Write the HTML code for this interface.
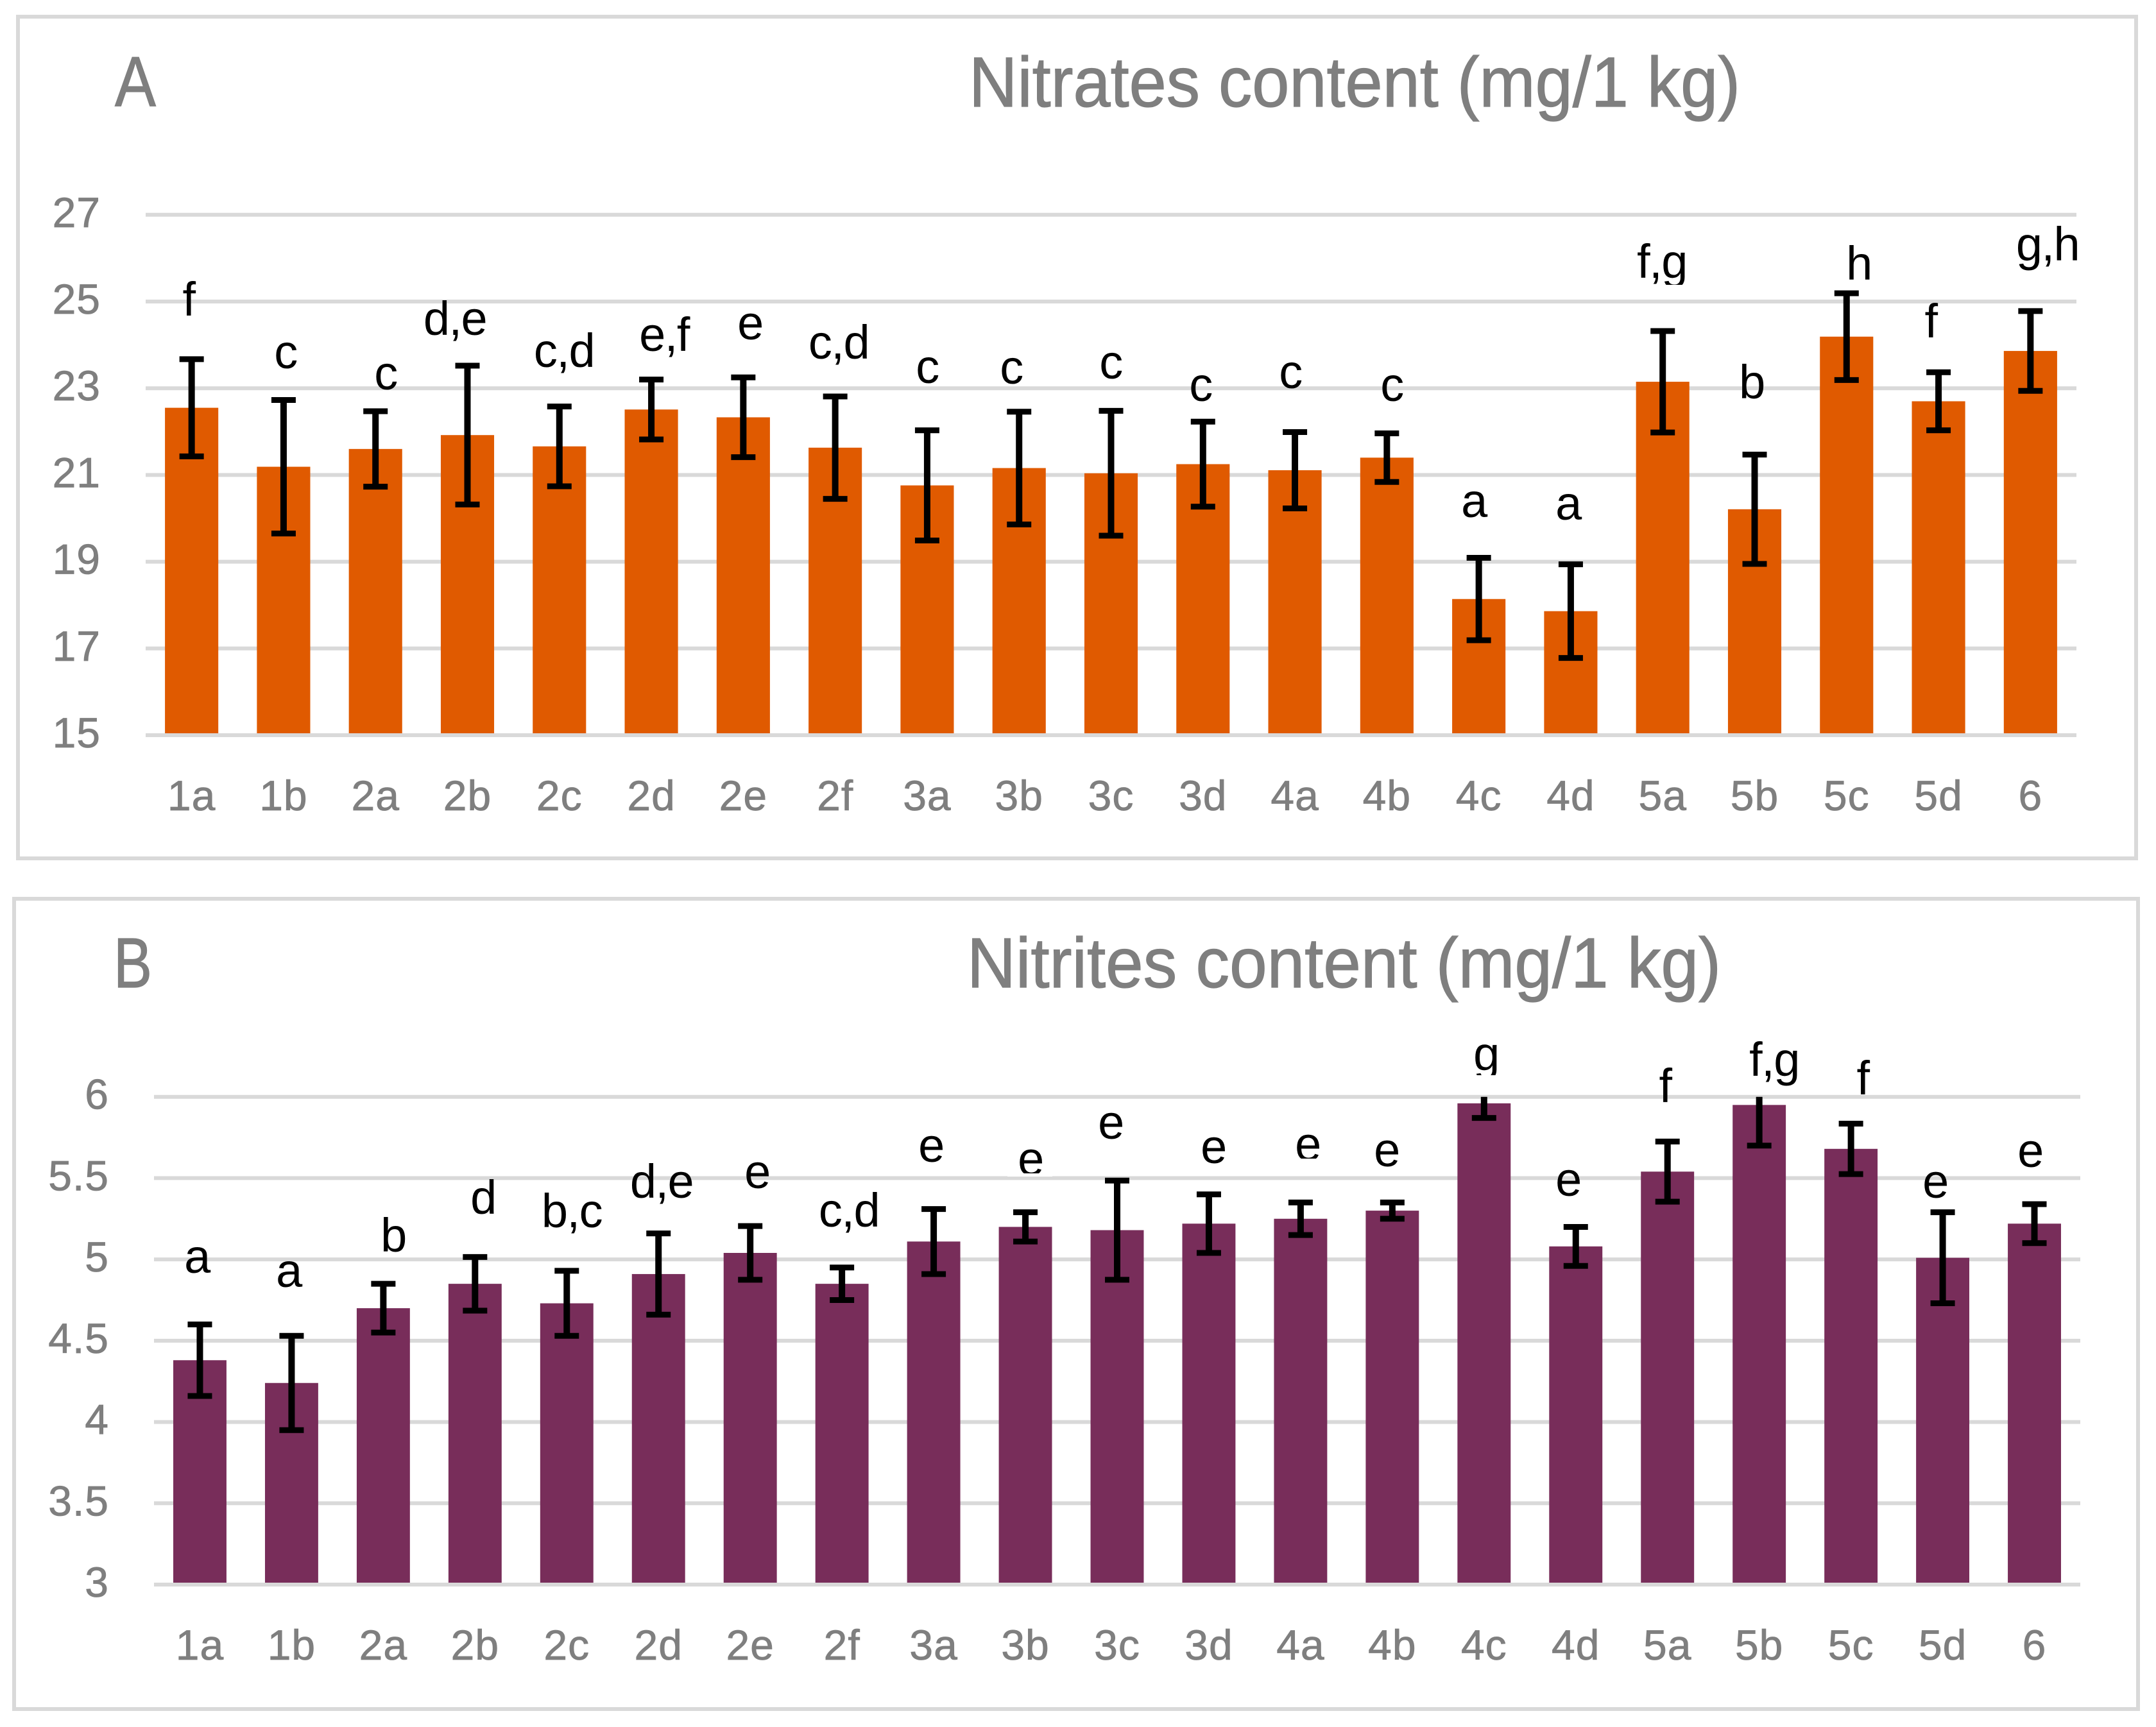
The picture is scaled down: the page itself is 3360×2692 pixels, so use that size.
<!DOCTYPE html>
<html lang="en">
<head>
<meta charset="utf-8">
<title>Nitrates and nitrites content</title>
<style>
  html, body { margin: 0; padding: 0; background: #ffffff; }
  svg { display: block; }
  text { font-family: "Liberation Sans", sans-serif; }
  .title { fill: #7f7f7f; stroke: #7f7f7f; stroke-width: 1.2px; font-size: 110px; }
  .letter { fill: #000000; font-size: 74px; letter-spacing: -1.5px; text-anchor: middle; }
</style>
</head>
<body>
<svg id="figure" xmlns="http://www.w3.org/2000/svg" width="3360" height="2692" viewBox="0 0 3360 2692">
  <rect x="0" y="0" width="3360" height="2692" fill="#ffffff"/>

  <g id="panel-a">
    <rect x="28" y="26" width="3301" height="1312" fill="#ffffff" stroke="#d9d9d9" stroke-width="6"/>
    <text class="title" x="179" y="165" textLength="64" lengthAdjust="spacingAndGlyphs">A</text>
    <text class="title" x="1510" y="166" textLength="1202" lengthAdjust="spacingAndGlyphs">Nitrates content (mg/1 kg)</text>
    <g id="plot-a"></g>
    <g>
      <text class="letter" x="294" y="492">f</text>
      <text class="letter" x="445" y="574">c</text>
      <text class="letter" x="601" y="607">c</text>
      <text class="letter" x="709" y="522">d,e</text>
      <text class="letter" x="879" y="572">c,d</text>
      <text class="letter" x="1035" y="547">e,f</text>
      <text class="letter" x="1169" y="529">e</text>
      <text class="letter" x="1307" y="559">c,d</text>
      <text class="letter" x="1445" y="597">c</text>
      <text class="letter" x="1576" y="598">c</text>
      <text class="letter" x="1731" y="590">c</text>
      <text class="letter" x="1871" y="625">c</text>
      <text class="letter" x="2011" y="605">c</text>
      <text class="letter" x="2169" y="625">c</text>
      <text class="letter" x="2297" y="806">a</text>
      <text class="letter" x="2444" y="810">a</text>
      <text class="letter" x="2590" y="433">f,g</text>
      <rect x="2550" y="444" width="80" height="20" fill="#ffffff"/>
      <text class="letter" x="2730" y="621">b</text>
      <text class="letter" x="2897" y="436">h</text>
      <text class="letter" x="3009" y="526">f</text>
      <text class="letter" x="3191" y="406">g,h</text>
    </g>
  </g>

  <g id="panel-b">
    <rect x="22" y="1401" width="3310" height="1263" fill="#ffffff" stroke="#d9d9d9" stroke-width="6"/>
    <text class="title" x="177" y="1539" textLength="60" lengthAdjust="spacingAndGlyphs">B</text>
    <text class="title" x="1507" y="1539" textLength="1175" lengthAdjust="spacingAndGlyphs">Nitrites content (mg/1 kg)</text>
    <g id="plot-b"></g>
    <g>
      <text class="letter" x="307" y="1984">a</text>
      <text class="letter" x="450" y="2006">a</text>
      <text class="letter" x="613" y="1951">b</text>
      <text class="letter" x="753" y="1892">d</text>
      <text class="letter" x="891" y="1913">b,c</text>
      <text class="letter" x="1031" y="1867">d,e</text>
      <text class="letter" x="1180" y="1852">e</text>
      <text class="letter" x="1323" y="1912">c,d</text>
      <text class="letter" x="1451" y="1811">e</text>
      <text class="letter" x="1606" y="1832">e</text>
      <rect x="1570" y="1829" width="70" height="5" fill="#ffffff"/>
      <text class="letter" x="1731" y="1775">e</text>
      <text class="letter" x="1891" y="1813">e</text>
      <text class="letter" x="2038" y="1809">e</text>
      <rect x="2000" y="1806" width="76" height="5" fill="#ffffff"/>
      <text class="letter" x="2161" y="1818">e</text>
      <text class="letter" x="2316" y="1668">g</text>
      <rect x="2280" y="1676" width="72" height="26" fill="#ffffff"/>
      <text class="letter" x="2444" y="1864">e</text>
      <text class="letter" x="2595" y="1718">f</text>
      <text class="letter" x="2765" y="1677">f,g</text>
      <text class="letter" x="2903" y="1706">f</text>
      <text class="letter" x="3016" y="1867">e</text>
      <text class="letter" x="3164" y="1819">e</text>
    </g>
  </g>
</svg>
<script>
// Shared categories
const categories = ['1a','1b','2a','2b','2c','2d','2e','2f','3a','3b','3c','3d','4a','4b','4c','4d','5a','5b','5c','5d','6'];

// Panel A: nitrates
const nitrateValues = [22.55,21.19,21.60,21.92,21.66,22.51,22.33,21.63,20.76,21.16,21.04,21.25,21.11,21.40,18.14,17.86,23.15,20.21,24.19,22.70,23.86];
const nitrateErrors = [1.12,1.54,0.87,1.60,0.92,0.69,0.92,1.18,1.27,1.30,1.44,0.98,0.88,0.56,0.95,1.08,1.17,1.26,1.00,0.67,0.92];
const nitrateTicks = [15,17,19,21,23,25,27];

// Panel B: nitrites
const nitriteValues = [4.38,4.24,4.70,4.85,4.73,4.91,5.04,4.85,5.11,5.20,5.18,5.22,5.25,5.30,5.96,5.08,5.54,5.95,5.68,5.01,5.22];
const nitriteErrors = [0.22,0.29,0.15,0.165,0.20,0.25,0.165,0.10,0.20,0.09,0.305,0.18,0.10,0.05,0.09,0.12,0.185,0.25,0.155,0.28,0.12];
const nitriteTicks = [3,3.5,4,4.5,5,5.5,6];

const SVG_NS = 'http://www.w3.org/2000/svg';

function makeLine(parent, x1, y1, x2, y2, color, width) {
  const el = document.createElementNS(SVG_NS, 'line');
  el.setAttribute('x1', x1);
  el.setAttribute('y1', y1);
  el.setAttribute('x2', x2);
  el.setAttribute('y2', y2);
  el.setAttribute('stroke', color);
  el.setAttribute('stroke-width', width);
  parent.appendChild(el);
  return el;
}

function makeLabel(parent, content, x, y, anchor) {
  const el = document.createElementNS(SVG_NS, 'text');
  el.textContent = content;
  el.setAttribute('x', x);
  el.setAttribute('y', y);
  el.setAttribute('text-anchor', anchor);
  el.setAttribute('fill', '#7f7f7f');
  el.setAttribute('stroke', '#7f7f7f');
  el.setAttribute('stroke-width', '0.8');
  el.setAttribute('font-size', '66');
  el.setAttribute('letter-spacing', '1');
  parent.appendChild(el);
  return el;
}

function drawChart(opts) {
  const plot = document.getElementById(opts.plotId);
  const ticks = opts.ticks;
  const minV = ticks[0];
  const maxV = ticks[ticks.length - 1];
  const step = (opts.right - opts.left) / categories.length;
  const barW = step * 0.58;
  const xScale = function (i) { return opts.left + step * (i + 0.5); };
  const yScale = function (v) { return opts.bottom - (v - minV) / (maxV - minV) * (opts.bottom - opts.top); };

  ticks.forEach(function (t, i) {
    if (i > 0) {
      const grid = makeLine(plot, opts.left, yScale(t), opts.right, yScale(t), '#d9d9d9', 6);
      
      
    }
    const tickLabel = makeLabel(plot, String(t), opts.tickRight, yScale(t) + 19, 'end');
    
    
  });

  categories.forEach(function (c, i) {
    const bar = document.createElementNS(SVG_NS, 'rect');
    bar.setAttribute('x', xScale(i) - barW / 2);
    bar.setAttribute('y', yScale(opts.values[i]));
    bar.setAttribute('width', barW);
    bar.setAttribute('height', Math.max(0, yScale(minV) - yScale(opts.values[i])));
    bar.setAttribute('fill', opts.color);
    
    
    plot.appendChild(bar);
  });

  const baseline = makeLine(plot, opts.left, yScale(minV), opts.right, yScale(minV), '#d9d9d9', 6);
  
  

  categories.forEach(function (c, i) {
    const hi = opts.values[i] + opts.errors[i];
    const lo = opts.values[i] - opts.errors[i];
    const x = xScale(i);
    const clipped = hi > maxV;
    const stem = makeLine(plot, x, yScale(Math.min(hi, maxV)), x, yScale(lo), '#000000', 10);
    
    
    if (!clipped) {
      const capTop = makeLine(plot, x - 19, yScale(hi), x + 19, yScale(hi), '#000000', 9);
      
      
    }
    const capBottom = makeLine(plot, x - 19, yScale(lo), x + 19, yScale(lo), '#000000', 9);
    
    

    const catLabel = makeLabel(plot, c, x, opts.catBaseline, 'middle');
    
    
  });
}

drawChart({
  plotId: 'plot-a',
  values: nitrateValues,
  errors: nitrateErrors,
  ticks: nitrateTicks,
  color: '#e05a00',
  left: 227,
  right: 3236,
  top: 334.8,
  bottom: 1146,
  tickRight: 157,
  catBaseline: 1263
});

drawChart({
  plotId: 'plot-b',
  values: nitriteValues,
  errors: nitriteErrors,
  ticks: nitriteTicks,
  color: '#782d5a',
  left: 240,
  right: 3242,
  top: 1709.7,
  bottom: 2470,
  tickRight: 170,
  catBaseline: 2587
});
</script>
</body>
</html>
